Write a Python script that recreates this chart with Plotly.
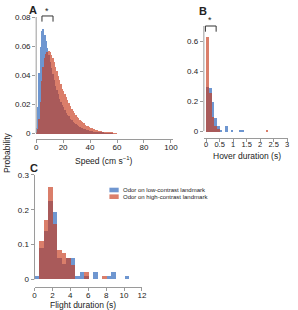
import plotly.graph_objects as go

W, H = 298, 310

# ---------------- data ----------------
# Panel A: speed histograms (1 cm/s bins, 0-60)
speed_centers = [i + 0.5 for i in range(60)]
speed_low = [0.004, 0.018, 0.042, 0.060, 0.071, 0.072, 0.068, 0.064, 0.059, 0.054,
             0.049, 0.045, 0.041, 0.037, 0.033, 0.030, 0.027, 0.024, 0.022, 0.020,
             0.018, 0.016, 0.014, 0.013, 0.012, 0.010, 0.009, 0.008, 0.0072, 0.0065,
             0.0058, 0.0052, 0.0046, 0.0041, 0.0036, 0.0032, 0.0028, 0.0025, 0.0022, 0.0019,
             0.0017, 0.0015, 0.0013, 0.0011, 0.0010, 0.0008, 0.0007, 0.0006, 0.0005, 0.0004,
             0.0003, 0.0003, 0.0002, 0.0002, 0.0001, 0.0001, 0.0001, 0.0, 0.0, 0.0]
speed_high = [0.001, 0.003, 0.010, 0.022, 0.036, 0.046, 0.052, 0.055, 0.056, 0.057,
              0.056, 0.054, 0.052, 0.049, 0.046, 0.043, 0.040, 0.037, 0.034, 0.031,
              0.029, 0.027, 0.025, 0.023, 0.021, 0.019, 0.017, 0.0155, 0.014, 0.0127,
              0.0115, 0.0104, 0.0094, 0.0085, 0.0077, 0.0069, 0.0062, 0.0055, 0.0049, 0.0044,
              0.0040, 0.0036, 0.0032, 0.0028, 0.0025, 0.0022, 0.0019, 0.0017, 0.0015, 0.0013,
              0.0011, 0.0009, 0.0008, 0.0007, 0.0006, 0.0005, 0.0004, 0.0003, 0.0002, 0.0002]

# Panel B: hover duration (0.1 s bins)
hover_centers = [round(0.05 + 0.1 * i, 2) for i in range(24)]
hover_low = [0.30, 0.29, 0.20, 0.09, 0.04, 0.01, 0.0, 0.04, 0.0, 0.007, 0.0, 0.0,
             0.008, 0.008, 0.0, 0.0, 0.0, 0.0, 0.0, 0.0, 0.0, 0.0, 0.0, 0.0]
hover_high = [0.63, 0.26, 0.10, 0.04, 0.02, 0.0, 0.0, 0.0, 0.0, 0.0, 0.0, 0.0,
              0.0, 0.0, 0.0, 0.0, 0.0, 0.0, 0.0, 0.0, 0.0, 0.0, 0.01, 0.0]

# Panel C: flight duration (0.5 s bins)
flight_centers = [0.25 + 0.5 * i for i in range(21)]
flight_low = [0.01, 0.09, 0.14, 0.225, 0.195, 0.06, 0.045, 0.06, 0.06, 0.01, 0.02,
              0.01, 0.0, 0.02, 0.0, 0.0, 0.01, 0.02, 0.0, 0.0, 0.01]
flight_high = [0.0, 0.11, 0.17, 0.265, 0.16, 0.085, 0.075, 0.06, 0.04, 0.0, 0.0,
               0.02, 0.0, 0.0, 0.0, 0.01, 0.0, 0.0, 0.0, 0.0, 0.0]

series_names = ["Odor on low-contrast landmark", "Odor on high-contrast landmark"]

# ---------------- style ----------------
BLUE = "rgb(55,110,190)"
RED = "rgb(200,60,30)"
OP_B, OP_R = 0.72, 0.66
FONT = "Liberation Sans, Arial, sans-serif"
AX = "#9a9a9a"
TXT = "#222222"


def px(x):
    return x / W


def py(y):
    return 1 - y / H


fig = go.Figure()


def add_pair(centers, low, high, width, xa, ya):
    fig.add_trace(go.Bar(x=centers, y=low, width=width, xaxis=xa, yaxis=ya,
                         marker=dict(color=BLUE, line=dict(width=0)), opacity=OP_B,
                         name=series_names[0], showlegend=False))
    fig.add_trace(go.Bar(x=centers, y=high, width=width, xaxis=xa, yaxis=ya,
                         marker=dict(color=RED, line=dict(width=0)), opacity=OP_R,
                         name=series_names[1], showlegend=False))


add_pair(speed_centers, speed_low, speed_high, 1.0, "x", "y")
add_pair(hover_centers, hover_low, hover_high, 0.1, "x2", "y2")
add_pair(flight_centers, flight_low, flight_high, 0.5, "x3", "y3")

axis_common = dict(showgrid=False, zeroline=False, ticks="outside", ticklen=3,
                   tickwidth=1, tickcolor=AX, tickfont=dict(size=8, color=TXT, family=FONT))
xcommon = dict(axis_common, showline=True, linecolor=AX, linewidth=1)
ycommon = dict(axis_common, showline=False)

fig.update_layout(
    width=W, height=H, margin=dict(l=0, r=0, t=0, b=0),
    paper_bgcolor="white", plot_bgcolor="white", barmode="overlay", bargap=0,
    font=dict(family=FONT, color=TXT),
    xaxis=dict(xcommon, domain=[px(35), px(175)], range=[0, 101.45],
               tickvals=[0, 20, 40, 60, 80, 100], anchor="y", ticklabelstandoff=-3),
    yaxis=dict(ycommon, domain=[py(139), py(2.5)], range=[-0.00414, 0.09],
               tickvals=[0, 0.02, 0.04, 0.06, 0.08], anchor="x"),
    xaxis2=dict(xcommon, domain=[px(206.7), px(293.3)], range=[-0.083, 3.047],
                tickvals=[0, 0.5, 1, 1.5, 2, 2.5, 3], anchor="y2", ticklabelstandoff=-4,
                tickfont=dict(size=7.5, color=TXT, family=FONT)),
    yaxis2=dict(ycommon, domain=[py(138), py(3.5)], range=[-0.0467, 0.85],
                tickvals=[0, 0.2, 0.4, 0.6], anchor="x2"),
    xaxis3=dict(xcommon, domain=[px(33.3), px(143.3)], range=[0, 12],
                tickvals=[0, 2, 4, 6, 8, 10, 12], anchor="y3", ticklabelstandoff=-3),
    yaxis3=dict(ycommon, domain=[py(287), py(165)], range=[-0.0221, 0.3287],
                tickvals=[0, 0.1, 0.2, 0.3], anchor="x3"),
)

shapes = []
# detached y spines
for xr, yr, top in [("x domain", "y", 0.08), ("x2 domain", "y2", 0.7), ("x3 domain", "y3", 0.3)]:
    shapes.append(dict(type="line", xref=xr, yref=yr, x0=0, x1=0, y0=0, y1=top,
                       line=dict(color=AX, width=1)))
# significance brackets
shapes.append(dict(type="path", xref="x", yref="y",
                   path="M 4.3 0.0768 L 4.3 0.0807 L 12.5 0.0807 L 12.5 0.0768",
                   line=dict(color="#333333", width=1)))
shapes.append(dict(type="path", xref="x2", yref="y2",
                   path="M -0.025 0.662 L -0.025 0.70 L 0.372 0.70 L 0.372 0.662",
                   line=dict(color="#333333", width=1)))
# manual legend swatches
shapes.append(dict(type="rect", xref="paper", yref="paper", x0=px(110), x1=px(119.5),
                   y0=py(192.3), y1=py(187.7), fillcolor=BLUE, opacity=OP_B, line=dict(width=0)))
shapes.append(dict(type="rect", xref="paper", yref="paper", x0=px(110), x1=px(119.5),
                   y0=py(199), y1=py(194.4), fillcolor=RED, opacity=OP_R, line=dict(width=0)))
fig.update_layout(shapes=shapes)

ann = []


def text(x, y, s, size, bold=False, xanchor="center", angle=0):
    ann.append(dict(x=px(x), y=py(y), xref="paper", yref="paper", text=("<b>%s</b>" % s) if bold else s,
                    showarrow=False, xanchor=xanchor, yanchor="middle", textangle=angle,
                    font=dict(size=size, family=FONT, color=TXT)))


text(32, 10, "A", 11, bold=True)
text(205.5, 10.5, "B", 11, bold=True)
text(32.5, 167.5, "C", 11, bold=True)
text(46, 11, "*", 9)
text(213.3, 20, "*", 9)
text(104, 160, "Speed (cm s<sup>−1</sup>)", 8.5)
text(250.7, 155.5, "Hover duration (s)", 8.5)
text(83, 305, "Flight duration (s)", 8.5)
text(5, 153, "Probability", 8.5, angle=-90)
text(122, 190, series_names[0], 6, xanchor="left")
text(122, 196.8, series_names[1], 6, xanchor="left")
fig.update_layout(annotations=ann)

fig.write_html("out.html")
